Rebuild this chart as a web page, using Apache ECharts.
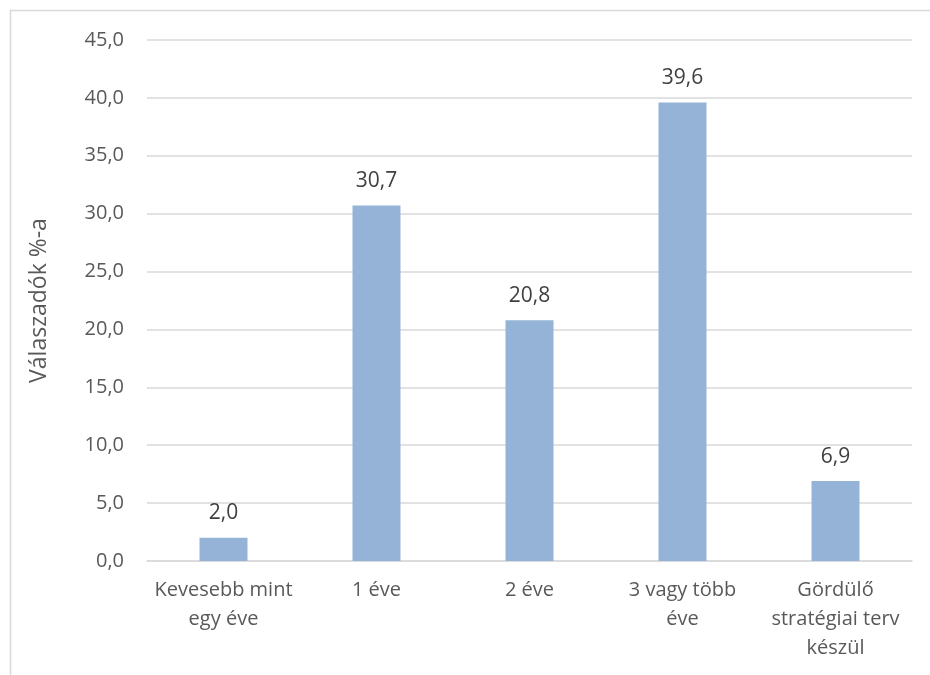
<!DOCTYPE html>
<html>
<head>
<meta charset="utf-8">
<script src="https://cdn.jsdelivr.net/npm/echarts@6/dist/echarts.min.js"></script>
<style>
  html, body { margin: 0; padding: 0; background: #fff; }
  #chart { width: 930px; height: 675px; }
</style>
</head>
<body>
<div id="chart"></div>
<script>
const categories = ['Kevesebb mint\negy éve', '1 éve', '2 éve', '3 vagy több\néve', 'Gördülő\nstratégiai terv\nkészül'];
const values = [2.0, 30.7, 20.8, 39.6, 6.9];
const yTicks = [0, 5, 10, 15, 20, 25, 30, 35, 40, 45];

const fmt = v => v.toFixed(1).replace('.', ',');
const font = '"Open Sans", "Noto Sans", sans-serif';

const chart = echarts.init(document.getElementById('chart'));
chart.setOption({
  animation: false,
  graphic: [{
    type: 'rect',
    shape: { x: 10.5, y: 10.5, width: 940, height: 700 },
    style: { fill: 'none', stroke: '#d9d9d9', lineWidth: 1.5 },
    silent: true
  }],
  grid: { left: 147, right: 18, top: 40, bottom: 114 },
  xAxis: {
    type: 'category',
    data: categories,
    axisTick: { show: false },
    axisLine: { lineStyle: { color: '#d9d9d9', width: 1.5 } },
    axisLabel: { color: '#595959', fontSize: 20, fontFamily: font, lineHeight: 29, margin: 15, interval: 0 }
  },
  yAxis: {
    type: 'value',
    min: yTicks[0],
    max: yTicks[yTicks.length - 1],
    interval: 5,
    name: 'Válaszadók %-a',
    nameLocation: 'middle',
    nameGap: 96,
    nameTextStyle: { color: '#595959', fontSize: 23, fontFamily: font },
    axisLine: { show: false },
    axisTick: { show: false },
    axisLabel: { color: '#595959', fontSize: 20, fontFamily: font, margin: 23, formatter: v => fmt(v) },
    splitLine: { lineStyle: { color: '#d9d9d9', width: 1.5 } }
  },
  series: [{
    type: 'bar',
    data: values,
    barWidth: 48,
    itemStyle: { color: '#95b3d7' },
    label: {
      show: true,
      position: 'top',
      distance: 14,
      color: '#404040',
      fontSize: 21,
      fontFamily: font,
      formatter: p => fmt(p.value)
    }
  }]
});
</script>
</body>
</html>
